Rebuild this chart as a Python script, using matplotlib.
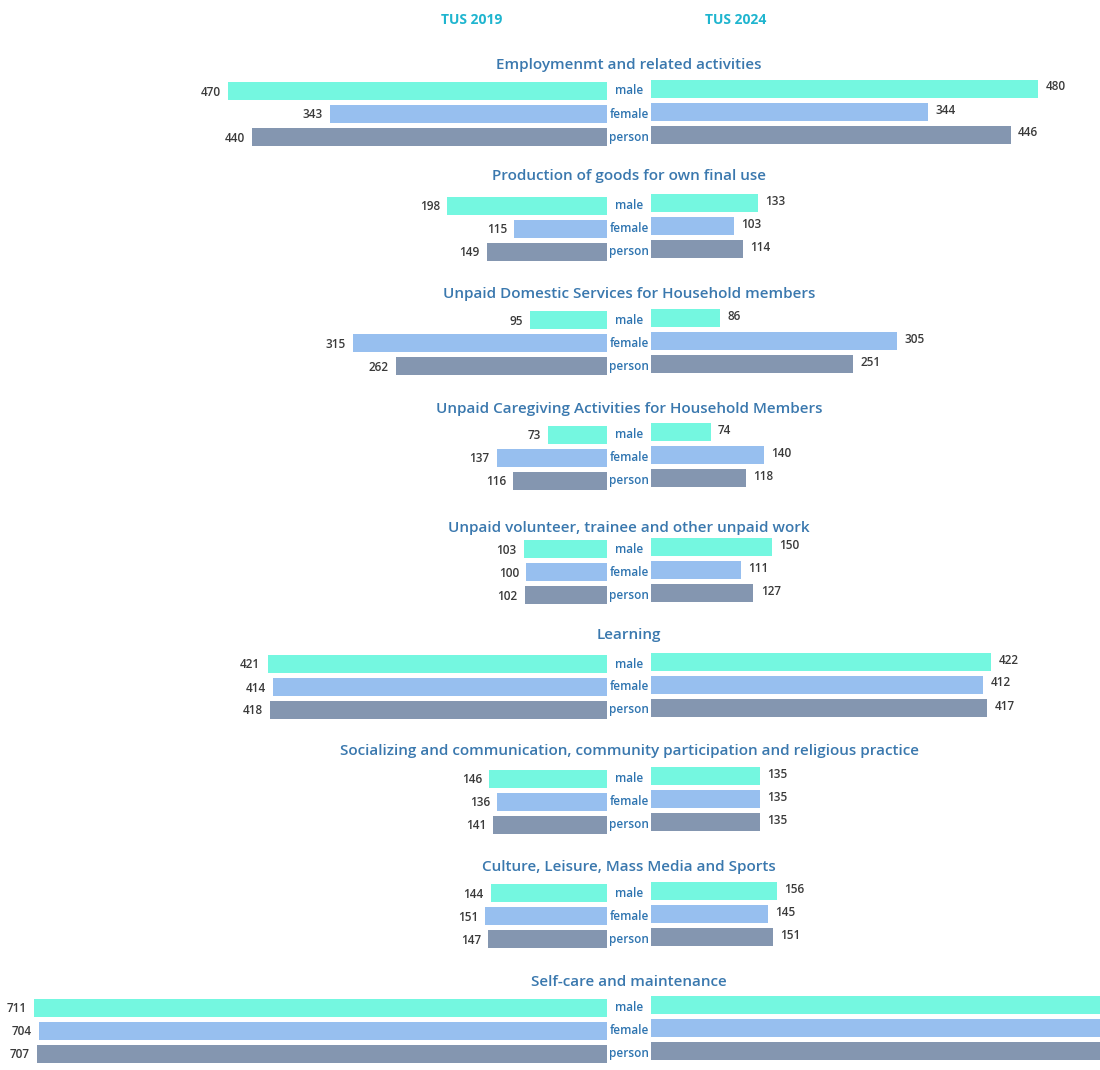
import matplotlib.pyplot as plt

# Time use survey: minutes per day by activity, 2019 vs 2024
activities = [
    "Employmenmt and related activities",
    "Production of goods for own final use",
    "Unpaid Domestic Services for Household members",
    "Unpaid Caregiving Activities for Household Members",
    "Unpaid volunteer, trainee and other unpaid work",
    "Learning",
    "Socializing and communication, community participation and religious practice",
    "Culture, Leisure, Mass Media and Sports",
    "Self-care and maintenance",
]
groups = ["male", "female", "person"]

tus2019_male = [470, 198, 95, 73, 103, 421, 146, 144, 711]
tus2019_female = [343, 115, 315, 137, 100, 414, 136, 151, 704]
tus2019_person = [440, 149, 262, 116, 102, 418, 141, 147, 707]

tus2024_male = [480, 133, 86, 74, 150, 422, 135, 156, 716]
tus2024_female = [344, 103, 305, 140, 111, 412, 135, 145, 706]
tus2024_person = [446, 114, 251, 118, 127, 417, 135, 151, 711]

colors = ["#74F7E0", "#97BFEF", "#8496B0"]
title_color = "#3A78AE"
head_color = "#1FB5CF"
label_color = "#2E74B0"
value_color = "#3A3A3A"

left_vals = [tus2019_male, tus2019_female, tus2019_person]
right_vals = [tus2024_male, tus2024_female, tus2024_person]

fig = plt.figure(figsize=(11, 10.7), dpi=100)
ax = fig.add_axes([0, 0, 1, 1])
xmax = 584
ax.set_xlim(-780, xmax)
ax.set_ylim(1070, 0)
ax.axis("off")

gap = 27.3        # half-width of centre label column (data units)
bar_h = 18
row_step = 23
group_step = 114.6
first_y = 91
title_off = [26, 30, 26, 26, 21, 29, 28, 26, 26]

for i, act in enumerate(activities):
    y0 = first_y + i * group_step
    ax.text(0, y0 - title_off[i], act, ha="center", va="center",
            fontsize=11, fontweight="semibold", color=title_color,
            family=["Open Sans", "DejaVu Sans"])
    for j, g in enumerate(groups):
        yl = y0 + j * row_step
        yr = yl - 2.5
        lv = left_vals[j][i]
        rv = right_vals[j][i]
        ax.barh(yl, -lv, left=-gap, height=bar_h, color=colors[j])
        ax.barh(yr, rv, left=gap, height=bar_h, color=colors[j])
        ax.text(0, yl, g, ha="center", va="center", fontsize=8.5,
                color=label_color, fontweight="semibold",
                family=["Open Sans", "DejaVu Sans"])
        ax.text(-gap - lv - 9, yl + 1, str(lv), ha="right", va="center",
                fontsize=8.5, color=value_color, fontweight="semibold",
                family=["Open Sans", "DejaVu Sans"])
        # labels of bars running past the right edge are not visible
        if gap + rv + 9 < xmax:
            ax.text(gap + rv + 9, yr - 1.5, str(rv), ha="left", va="center",
                    fontsize=8.5, color=value_color, fontweight="semibold",
                    family=["Open Sans", "DejaVu Sans"])

ax.text(-195, 20, "TUS 2019", ha="center", va="center", fontsize=10,
        fontweight="bold", color=head_color, family=["Open Sans", "DejaVu Sans"])
ax.text(132, 20, "TUS 2024", ha="center", va="center", fontsize=10,
        fontweight="bold", color=head_color, family=["Open Sans", "DejaVu Sans"])

plt.savefig("out.png", dpi=100)
plt.close()
